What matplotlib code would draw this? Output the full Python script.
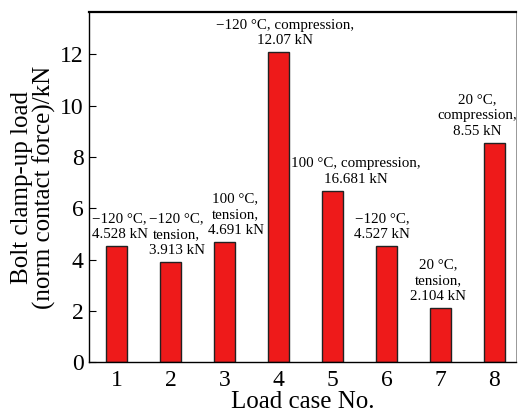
import matplotlib
matplotlib.use('Agg')
import matplotlib.pyplot as plt

cases = [1, 2, 3, 4, 5, 6, 7, 8]
loads = [4.528, 3.913, 4.691, 12.07, 6.681, 4.527, 2.104, 8.55]
labels = [
    '\u2212120 \u00b0C,\n4.528 kN',
    '\u2212120 \u00b0C,\ntension,\n3.913 kN',
    '100 \u00b0C,\ntension,\n4.691 kN',
    '\u2212120 \u00b0C, compression,\n12.07 kN',
    '100 \u00b0C, compression,\n16.681 kN',
    '\u2212120 \u00b0C,\n4.527 kN',
    '20 \u00b0C,\ntension,\n2.104 kN',
    '20 \u00b0C,\ncompression,\n8.55 kN',
]
# horizontal nudges of the annotations (pixels)
label_dx = [3, 6, 11, 7, 23, -4, -2, -17]

plt.rcParams['font.family'] = ['Liberation Serif', 'DejaVu Serif']

fig = plt.figure(figsize=(5.18, 4.12), dpi=100)
ax = fig.add_axes([0.172, 0.121, 0.824, 0.850])

bars = ax.bar(cases, loads, width=0.4, color='#EE1A1A', edgecolor='#222222', linewidth=1.0)

for b, txt, dx in zip(bars, labels, label_dx):
    ax.annotate(txt, (b.get_x() + b.get_width() / 2, b.get_height()),
                xytext=(dx, 5), textcoords='offset pixels',
                ha='center', va='bottom', fontsize=10.8, linespacing=1.28)

ax.set_xlim(0.49, 8.4)
ax.set_ylim(0, 13.65)
ax.set_xticks(cases)
ax.set_yticks([0, 2, 4, 6, 8, 10, 12])
ax.tick_params(axis='x', length=0, labelsize=17, pad=6)
ax.tick_params(axis='y', direction='in', length=5, labelsize=17, pad=4)

for s in ['left', 'bottom']:
    ax.spines[s].set_linewidth(1.0)
ax.spines['top'].set_linewidth(1.6)
ax.spines['right'].set_linewidth(0.6)
ax.spines['right'].set_color('#888888')

ax.set_xlabel('Load case No.', fontsize=18, labelpad=0)
ax.set_ylabel('Bolt clamp-up load\n(norm contact force)/kN', fontsize=18,
              labelpad=3, linespacing=0.95)

fig.savefig('out.png', dpi=100)
